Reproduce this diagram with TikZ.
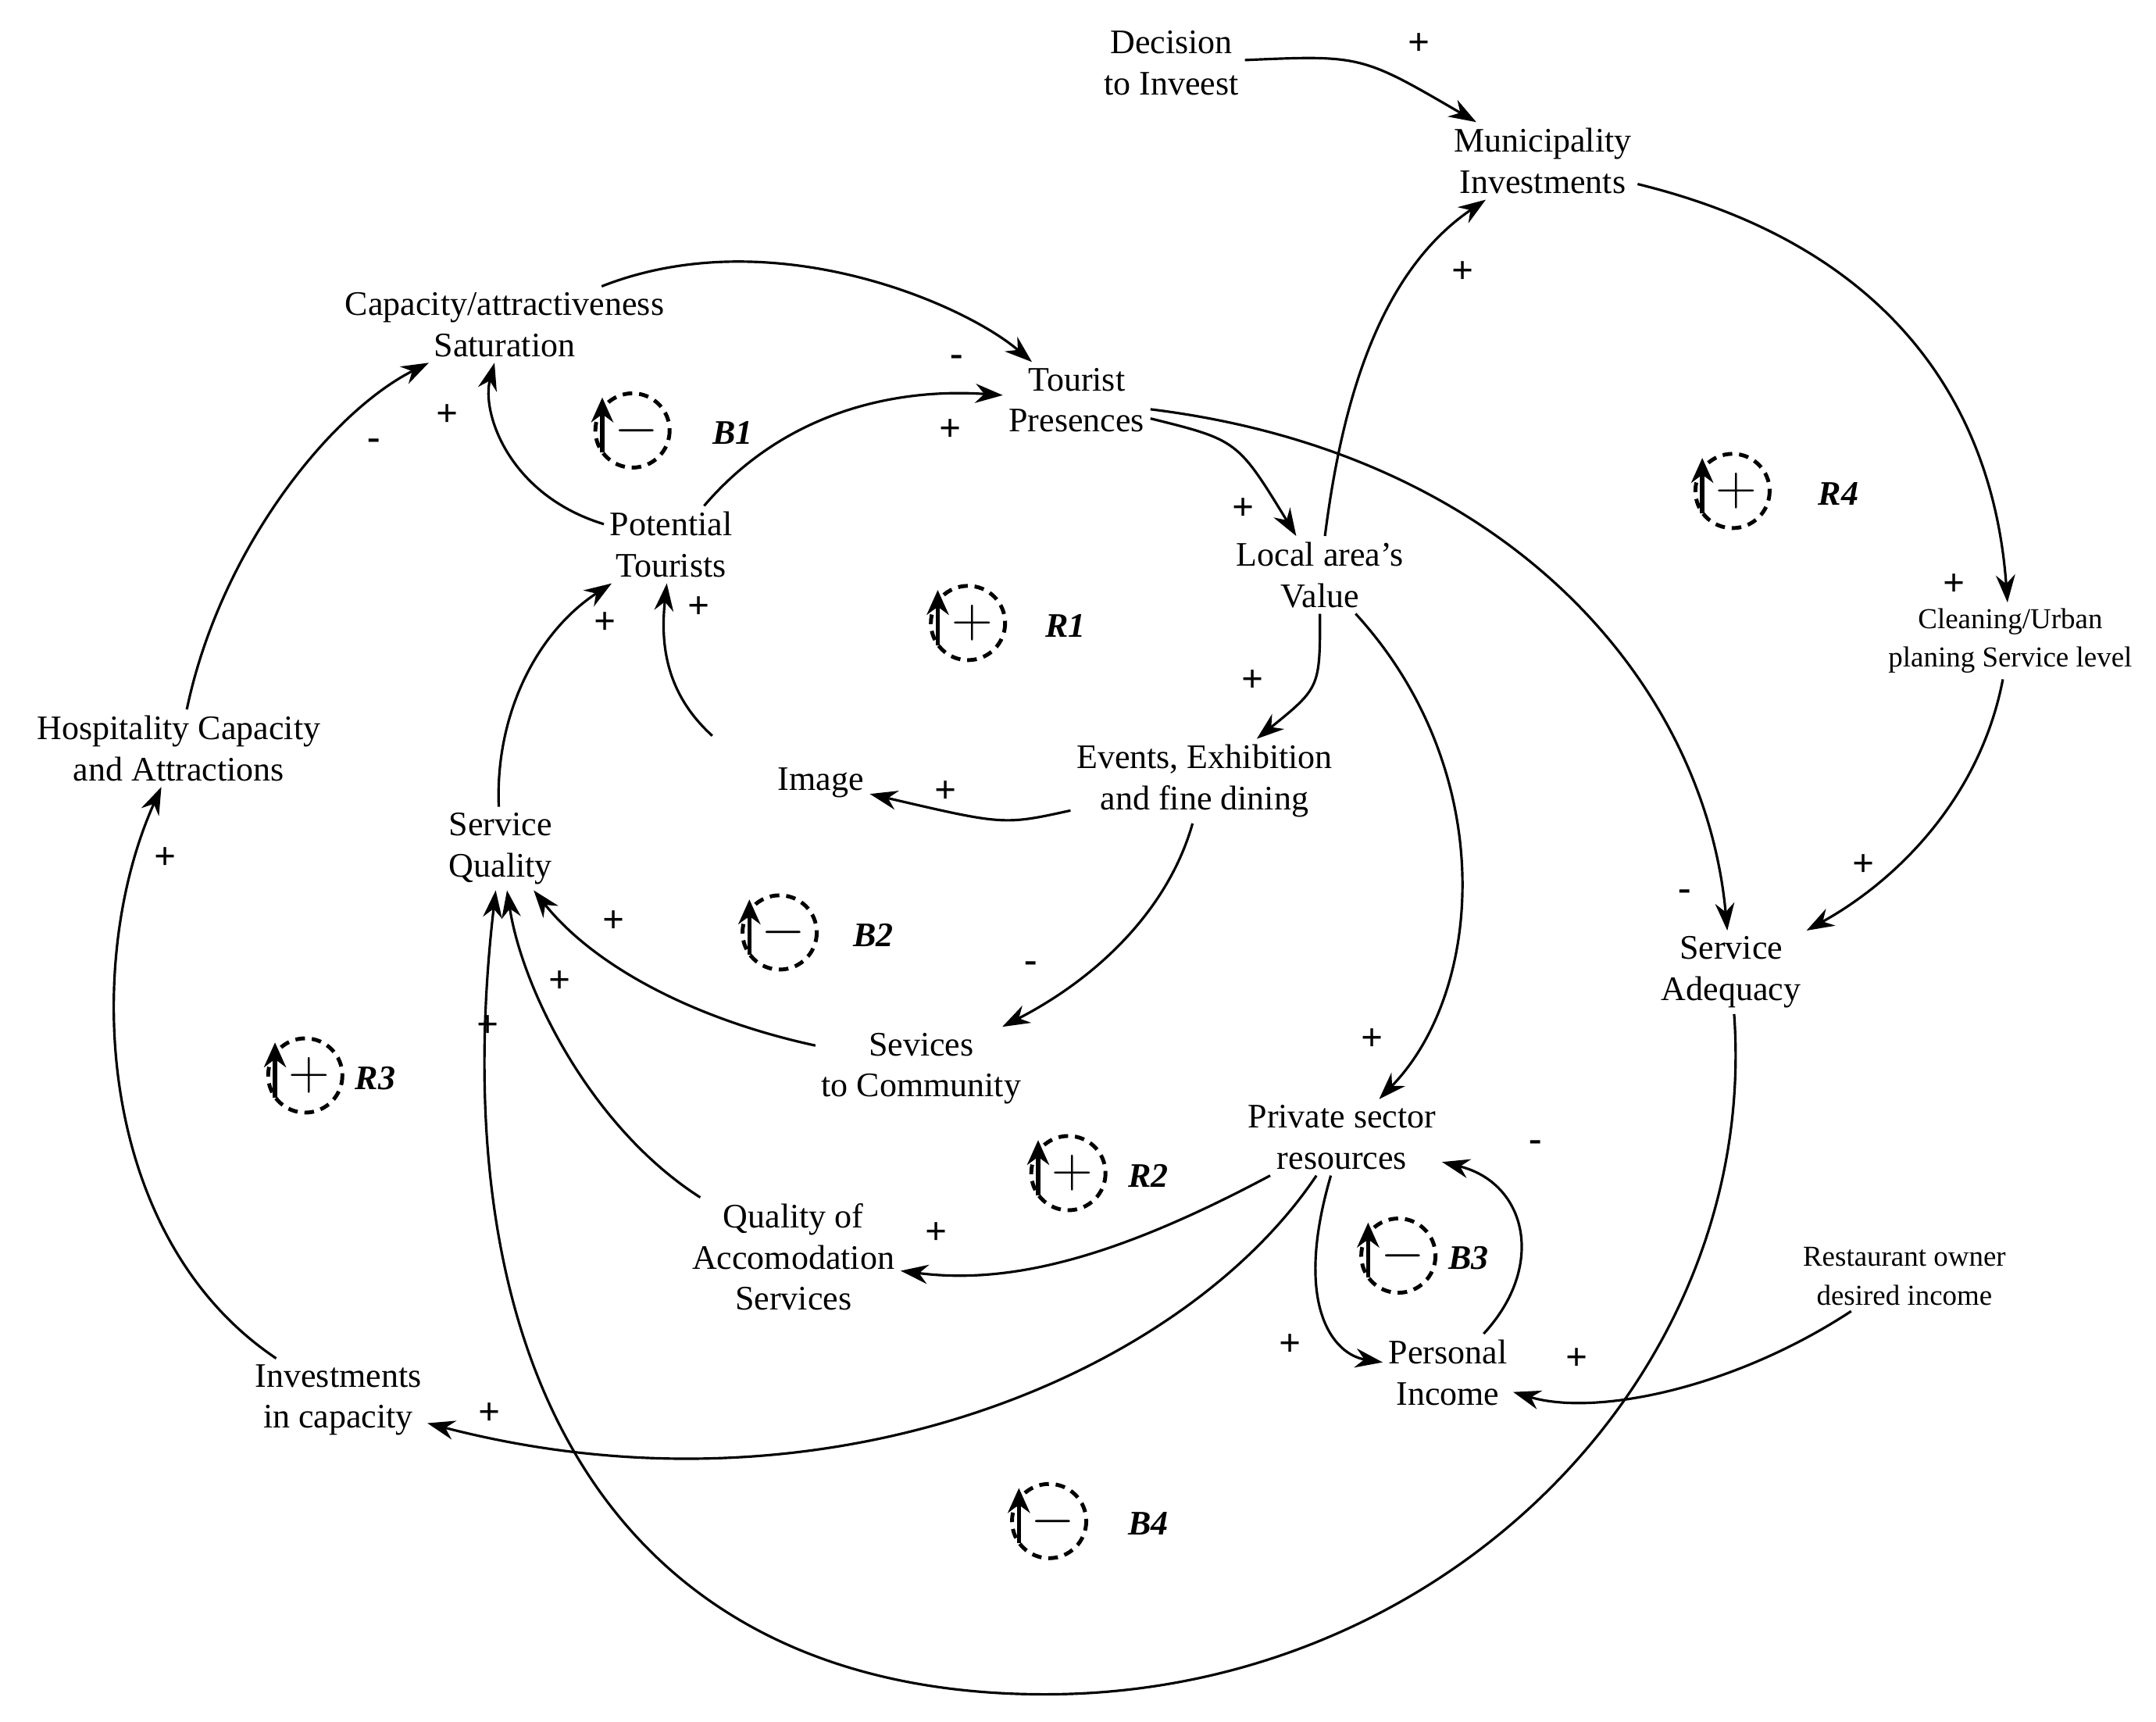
\documentclass[tikz,border=0pt]{standalone}
\usepackage{fontspec}
\setmainfont{Liberation Serif}
\usetikzlibrary{arrows.meta}
\begin{document}
\begin{tikzpicture}[x=0.5pt,y=-0.5pt,
  v/.style={align=center,font=\fontsize{12.5}{15}\selectfont,inner sep=2pt},
  vs/.style={align=center,font=\fontsize{10.5}{14}\selectfont,inner sep=2pt},
  e/.style={-{Stealth[length=10pt,width=7pt]},line width=0.9pt},
  pol/.style={font=\bfseries\fontsize{14}{14}\selectfont},
  ll/.style={font=\bfseries\itshape\fontsize{12.5}{13}\selectfont}]
\useasboundingbox (0,0) rectangle (1568,1252);
\newcommand\cldloop[5]{%
  \draw[dash pattern=on 3.5pt off 2.5pt,line width=1.4pt] (#1,#2) circle[radius=27];
  \draw[-{Stealth[length=9pt,width=8pt]},line width=1.6pt] (#1-22,#2+16) -- (#1-22,#2-24);
  \node[font=\fontsize{22}{22}\selectfont] at (#1+3,#2) {#3};
  \node[ll] at (#4,#2+2) {#5};}
% nodes
\node[v] (dec) at (852,46) {Decision\\to Inveest};
\node[v] (mun) at (1122,117) {Municipality\\Investments};
\node[v] (cap) at (367,236) {Capacity/attractiveness\\Saturation};
\node[v] (tp) at (783,291) {Tourist\\Presences};
\node[v] (pt) at (488,396) {Potential\\Tourists};
\node[v] (val) at (960,418) {Local area's\\Value};
\node[vs] (cln) at (1462,466) {Cleaning/Urban\\planing Service level};
\node[v] (hosp) at (130,544) {Hospitality Capacity\\and Attractions};
\node[v] (img) at (597,569) {Image};
\node[v] (ev) at (876,568) {Events, Exhibition\\and fine dining};
\node[v] (sq) at (364,617) {Service\\Quality};
\node[v] (adq) at (1259,707) {Service\\Adequacy};
\node[v] (sc) at (670,777) {Sevices\\to Community};
\node[v] (priv) at (976,827) {Private sector\\resources};
\node[v] (qa) at (577,914) {Quality of\\Accomodation\\Services};
\node[vs] (rest) at (1385,928) {Restaurant owner\\desired income};
\node[v] (pi) at (1053,998) {Personal\\Income};
\node[v] (inv) at (246,1018) {Investments\\in capacity};
\coordinate (imgs) at (518,535);
% connectors
\draw[e] (dec) .. controls (990,40) .. (mun);
\draw[e] (mun) .. controls (1380,180) and (1450,300) .. (cln);
\draw[e] (val) .. controls (975,300) and (1000,200) .. (mun);
\draw[e] (cap) .. controls (560,160) and (700,220) .. (tp);
\draw[e] (pt) .. controls (570,300) and (650,282) .. (tp);
\draw[e] (pt) .. controls (370,360) and (350,300) .. (cap);
\draw[e] (hosp) .. controls (160,400) and (240,300) .. (cap);
\draw[e] (tp) .. controls (900,320) .. (val);
\draw[e] (tp) .. controls (1100,330) and (1240,500) .. (adq);
\draw[e] (cln) .. controls (1440,580) and (1380,640) .. (adq);
\draw[e] (val) .. controls (960,500) .. (ev);
\draw[e] (val) .. controls (1090,560) and (1080,720) .. (priv);
\draw[e] (ev) .. controls (730,600) .. (img);
\draw[e] (ev) .. controls (850,660) and (800,710) .. (sc);
\draw[e] (imgs) .. controls (485,505) and (480,470) .. (pt);
\draw[e] (sq) .. controls (360,520) and (390,460) .. (pt);
\draw[e] (sc) .. controls (500,740) and (430,700) .. (sq);
\draw[e] (qa) .. controls (430,820) and (380,720) .. (sq);
\draw[e] (adq) .. controls (1280,1000) and (1050,1232) .. (760,1232) .. controls (450,1232) and (320,1000) .. (sq);
\draw[e] (priv) .. controls (820,910) and (740,935) .. (qa);
\draw[e] (priv) .. controls (860,1000) and (600,1110) .. (inv);
\draw[e] (priv) .. controls (940,950) and (970,985) .. (pi);
\draw[e] (pi) .. controls (1125,920) and (1110,860) .. (priv);
\draw[e] (rest) .. controls (1260,1010) and (1160,1030) .. (pi);
\draw[e] (inv) .. controls (70,900) and (60,700) .. (hosp);
% polarities
\node[pol] at (1032,32) {+};
\node[pol] at (1421,425) {+};
\node[pol] at (1064,198) {+};
\node[pol] at (696,262) {-};
\node[pol] at (691,313) {+};
\node[pol] at (325,302) {+};
\node[pol] at (272,323) {-};
\node[pol] at (904,370) {+};
\node[pol] at (1225,651) {-};
\node[pol] at (1355,629) {+};
\node[pol] at (911,495) {+};
\node[pol] at (998,756) {+};
\node[pol] at (688,576) {+};
\node[pol] at (750,703) {-};
\node[pol] at (508,442) {+};
\node[pol] at (440,453) {+};
\node[pol] at (446,670) {+};
\node[pol] at (407,714) {+};
\node[pol] at (355,746) {+};
\node[pol] at (681,897) {+};
\node[pol] at (356,1028) {+};
\node[pol] at (938,978) {+};
\node[pol] at (1117,833) {-};
\node[pol] at (1147,988) {+};
\node[pol] at (120,624) {+};
% loops
\cldloop{460}{313}{$-$}{533}{B1}
\cldloop{704}{453}{$+$}{775}{R1}
\cldloop{1260}{357}{$+$}{1337}{R4}
\cldloop{567}{678}{$-$}{635}{B2}
\cldloop{222}{782}{$+$}{273}{R3}
\cldloop{777}{853}{$+$}{835}{R2}
\cldloop{1017}{913}{$-$}{1068}{B3}
\cldloop{763}{1106}{$-$}{835}{B4}
\end{tikzpicture}
\end{document}
